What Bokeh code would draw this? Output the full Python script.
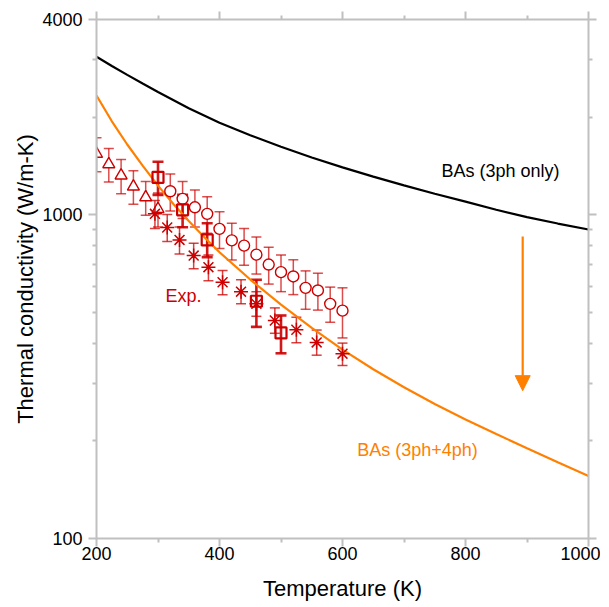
from bokeh.plotting import figure
from bokeh.models import (LinearAxis, LogAxis, FixedTicker, NumeralTickFormatter,
                          CustomJSTickFormatter, Range1d, ColumnDataSource, Whisker,
                          TeeHead, Arrow, NormalHead, Label)
from bokeh.embed import file_html
from bokeh.resources import INLINE

# ---------------- data ----------------
x_major = [200, 400, 600, 800, 1000]
x_minor = [300, 500, 700, 900]
y_major = [100, 1000, 4000]
y_minor = [200, 300, 400, 500, 600, 700, 800, 900, 2000, 3000]

# BAs (3ph only)
T_3ph = [200, 225, 250, 275, 300, 350, 400, 450, 500, 550, 600, 650, 700, 750, 800, 850, 900, 950, 1000]
k_3ph = [3070, 2874, 2698, 2538, 2390, 2130, 1920, 1758, 1620, 1500, 1398, 1309, 1230, 1159, 1096, 1035, 982, 938, 899]

# BAs (3ph+4ph)
T_4ph = [200, 225, 250, 275, 300, 325, 350, 375, 400, 450, 500, 550, 600, 650, 700, 750, 800, 850, 900, 950, 1000]
k_4ph = [2330, 1940, 1645, 1415, 1228, 1078, 955, 852, 765, 630, 527, 447, 383, 333, 293, 260, 233, 210, 190, 172, 156]

# experiments: triangles
tri_T = [200, 220, 240, 260, 280, 300]
tri_k = [1540, 1430, 1320, 1220, 1130, 1040]
tri_lo = [1355, 1260, 1160, 1075, 995, 915]
tri_hi = [1725, 1600, 1480, 1365, 1265, 1165]

# circles
cir_T = [320, 340, 360, 380, 400, 420, 440, 460, 480, 500, 520, 540, 560, 580, 600]
cir_k = [1180, 1118, 1053, 1005, 903, 832, 802, 752, 701, 664, 644, 594, 583, 530, 505]
cir_lo = [1025, 972, 915, 875, 786, 724, 698, 655, 610, 578, 566, 510, 507, 465, 416]
cir_hi = [1335, 1265, 1190, 1135, 1020, 940, 906, 852, 792, 750, 725, 670, 659, 597, 594]

# squares
sq_T = [300, 340, 380, 460, 500]
sq_k = [1303, 1034, 835, 540, 431]
sq_lo = [1150, 914, 739, 450, 373]
sq_hi = [1455, 1150, 940, 629, 488]

# asterisks
ast_T = [295, 315, 335, 358, 382, 405, 435, 460, 490, 525, 558, 600]
ast_k = [1005, 912, 835, 747, 688, 618, 578, 530, 471, 441, 403, 372]
ast_lo = [905, 825, 755, 680, 625, 565, 530, 485, 430, 402, 368, 342]
ast_hi = [1105, 1000, 915, 815, 750, 672, 629, 578, 515, 482, 440, 401]

# annotations
lbl_3ph = ("BAs (3ph only)", 761, 1367)
lbl_4ph = ("BAs (3ph+4ph)", 624, 187)
lbl_exp = ("Exp.", 312, 562)
arrow_T, arrow_k0, arrow_k1 = 893, 855, 286

# ---------------- styling ----------------
FONT = "Liberation Sans"
RED = "#CC0000"
ORANGE = "#FF8000"
GRAY = "#C0C0C0"

p = figure(width=600, height=605, x_range=Range1d(200, 1000), y_range=Range1d(100, 4000),
           y_axis_type="log", output_backend="svg", toolbar_location=None,
           min_border_left=96, min_border_top=19, min_border_right=12, min_border_bottom=67)
p.outline_line_color = None
p.xgrid.visible = False
p.ygrid.visible = False
p.background_fill_color = "white"
p.border_fill_color = "white"


def style_axis(ax):
    ax.axis_line_color = GRAY
    ax.axis_line_width = 2
    ax.major_tick_line_color = GRAY
    ax.major_tick_line_width = 2
    ax.minor_tick_line_color = GRAY
    ax.minor_tick_line_width = 2
    ax.major_tick_out = 8
    ax.major_tick_in = 0
    ax.minor_tick_out = 4
    ax.minor_tick_in = 0
    ax.major_label_text_font = FONT
    ax.major_label_text_font_size = "18px"
    ax.major_label_text_color = "black"
    ax.axis_label_text_font = FONT
    ax.axis_label_text_font_size = "22px"
    ax.axis_label_text_font_style = "normal"
    ax.axis_label_text_color = "black"


xt = FixedTicker(ticks=x_major, minor_ticks=x_minor)
yt = FixedTicker(ticks=y_major, minor_ticks=y_minor)

xa = p.xaxis[0]
xa.ticker = xt
style_axis(xa)
xa.major_label_standoff = 0
xa.axis_label = "Temperature (K)"
xa.axis_label_standoff = 13

ya = p.yaxis[0]
ya.ticker = yt
ya.formatter = NumeralTickFormatter(format="0")
style_axis(ya)
ya.major_label_standoff = 6
ya.axis_label = "Thermal conductivity (W/m-K)"
ya.axis_label_standoff = 1

blank = CustomJSTickFormatter(code="return ''")
top = LinearAxis(ticker=FixedTicker(ticks=x_major, minor_ticks=x_minor), formatter=blank)
style_axis(top)
top.major_label_standoff = 0
p.add_layout(top, "above")
right = LogAxis(ticker=FixedTicker(ticks=y_major, minor_ticks=y_minor), formatter=blank)
style_axis(right)
right.major_label_standoff = 0
p.add_layout(right, "right")

# curves
p.line(T_3ph, k_3ph, line_color="black", line_width=2.2)
p.line(T_4ph, k_4ph, line_color=ORANGE, line_width=2.2)


def add_bars(T, lo, hi, width, size, alpha):
    src = ColumnDataSource(dict(T=T, lo=lo, hi=hi))
    w = Whisker(source=src, base="T", lower="lo", upper="hi",
                line_color=RED, line_width=width, line_alpha=alpha,
                upper_head=TeeHead(size=size, line_color=RED, line_width=width, line_alpha=alpha),
                lower_head=TeeHead(size=size, line_color=RED, line_width=width, line_alpha=alpha))
    p.add_layout(w)


add_bars(tri_T, tri_lo, tri_hi, 1.5, 10, 0.7)
add_bars(cir_T, cir_lo, cir_hi, 1.5, 10, 0.7)
add_bars(ast_T, ast_lo, ast_hi, 1.5, 10, 0.75)
add_bars(sq_T, sq_lo, sq_hi, 2.6, 11, 0.9)

p.scatter(tri_T, tri_k, marker="triangle", size=12, fill_color="white", line_color=RED, line_width=1.4)
p.scatter(cir_T, cir_k, marker="circle", size=11, fill_color="white", line_color=RED, line_width=1.4)
p.scatter(sq_T, sq_k, marker="square", size=11, fill_color=None, line_color=RED, line_width=2.2)
p.scatter(ast_T, ast_k, marker="asterisk", size=14, line_color=RED, line_width=1.5)

# arrow
p.add_layout(Arrow(x_start=arrow_T, y_start=arrow_k0, x_end=arrow_T, y_end=arrow_k1,
                   line_color=ORANGE, line_width=2.2,
                   end=NormalHead(size=15, fill_color=ORANGE, line_color=ORANGE, line_width=1)))

# labels
for (txt, x, y), col in ((lbl_3ph, "black"), (lbl_4ph, ORANGE), (lbl_exp, RED)):
    p.add_layout(Label(x=x, y=y, text=txt, text_font=FONT, text_font_size="18px",
                       text_color=col, text_baseline="middle", text_align="left"))

open("out.html", "w").write(file_html(p, INLINE))
